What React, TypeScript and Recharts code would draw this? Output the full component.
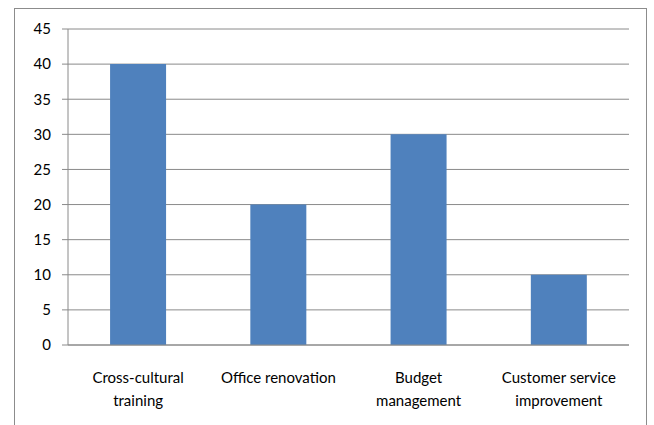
import React from "react";
import { BarChart, Bar, XAxis, YAxis, CartesianGrid } from "recharts";

const categories = ["Cross-cultural training", "Office renovation", "Budget management", "Customer service improvement"];
const labelLines = [["Cross-cultural", "training"], ["Office renovation"], ["Budget", "management"], ["Customer service", "improvement"]];
const values = [40, 20, 30, 10];
const yTicks = [0, 5, 10, 15, 20, 25, 30, 35, 40, 45];

const data = categories.map((c, i) => ({ name: c, idx: i, value: values[i] }));
const boundaryTicks = categories.map((_, i) => i).concat([categories.length]);

const FONT = "Lato, 'Noto Sans', sans-serif";

const CatTick = (props: any) => {
  const { x, y, index } = props;
  const lines = labelLines[index] || [String(props.payload.value)];
  return (
    <text x={x} y={y} textAnchor="middle" fill="#000" fontSize={15} fontFamily={FONT}>
      {lines.map((l, i) => (
        <tspan key={i} x={x} dy={i === 0 ? 32 : 23}>{l}</tspan>
      ))}
    </text>
  );
};

export default function App() {
  return (
    <div style={{ position: "absolute", left: 0, top: 0, width: 654, height: 425, overflow: "hidden", background: "#fff" }}>
      <div style={{ position: "absolute", left: 14, top: 8, width: 633, height: 440, border: "1px solid #8c8c8c", boxSizing: "border-box" }} />
      <div style={{ position: "absolute", left: 0, top: 0 }}>
        <BarChart width={654} height={425} data={data} margin={{ top: 29, right: 25, left: 0, bottom: 20 }} barCategoryGap="30%">
          <CartesianGrid vertical={false} stroke="#8a8a8a" />
          <XAxis xAxisId="b" type="number" dataKey="idx" domain={[0, categories.length]} ticks={boundaryTicks} height={0}
            tick={false} tickSize={6} axisLine={false} tickLine={{ stroke: "#8a8a8a" }} allowDataOverflow />
          <XAxis xAxisId="a" dataKey="name" height={60} tickLine={false} tickSize={6} tickMargin={0}
            axisLine={{ stroke: "#8a8a8a" }} tick={<CatTick />} interval={0} />
          <YAxis domain={[0, 45]} ticks={yTicks} width={68} tickSize={6} tickMargin={11} interval={0}
            axisLine={{ stroke: "#8a8a8a" }} tickLine={{ stroke: "#8a8a8a" }}
            tick={{ fill: "#000", fontSize: 15, fontFamily: FONT }} />
          <Bar xAxisId="a" dataKey="value" fill="#4F81BD" isAnimationActive={false} />
        </BarChart>
      </div>
    </div>
  );
}
